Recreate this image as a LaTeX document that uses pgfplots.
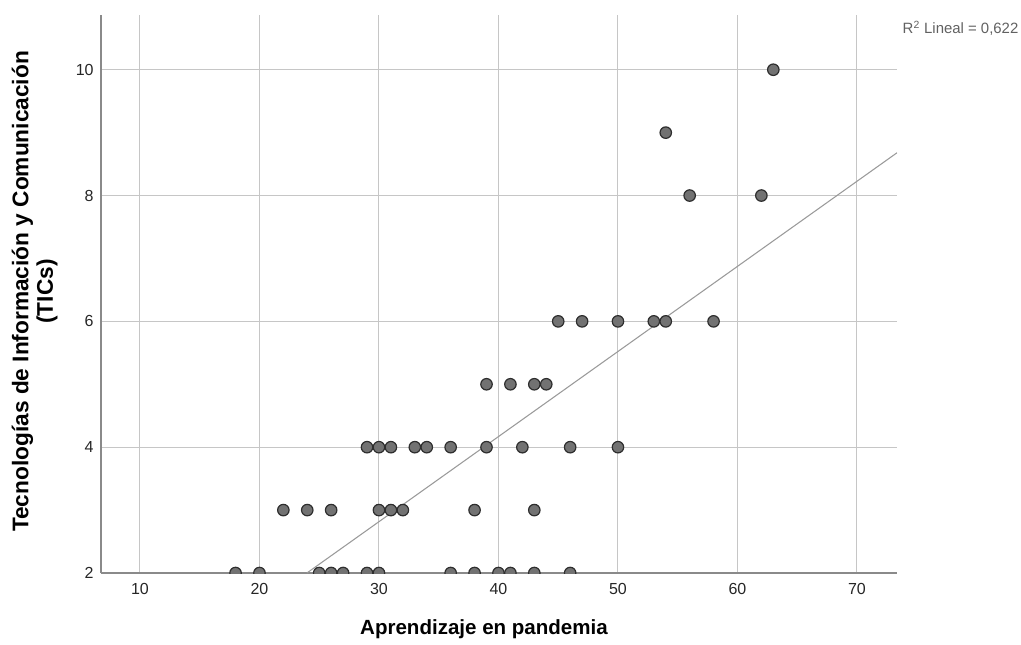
\documentclass[border=0pt]{standalone}
\usepackage{fontspec}
\setmainfont{Liberation Sans}
\usepackage{pgfplots}
\pgfplotsset{compat=1.18}
\definecolor{gridc}{HTML}{C6C6C6}
\definecolor{axc}{HTML}{8A8A8A}
\definecolor{markfill}{HTML}{727272}
\definecolor{markdraw}{HTML}{2E2E2E}
\definecolor{fitc}{HTML}{9A9A9A}
\begin{document}
\begin{tikzpicture}[x=1pt,y=1pt]
\useasboundingbox (0,0) rectangle (765.75,483);
\begin{axis}[
  at={(75.75pt,53.25pt)}, anchor=south west,
  scale only axis, width=597pt, height=418.5pt,
  xmin=6.74, xmax=73.35, ymin=2, ymax=10.87,
  axis x line*=bottom, axis y line*=left,
  axis line style={-, draw=axc, line width=0.8pt},
  xtick={10,20,30,40,50,60,70},
  ytick={2,4,6,8,10},
  major tick length=0pt,
  grid=major,
  major grid style={draw=gridc, line width=0.75pt},
  /pgf/number format/assume math mode=true,
  tick label style={font=\fontsize{12}{14}\selectfont, text=black!85},
  xticklabel style={yshift=-4pt},
  yticklabel style={xshift=-2pt},
  clip marker paths=true,
]
\addplot[draw=fitc, line width=0.8pt] coordinates {(23.97,2) (73.35,8.68)};
\addplot[only marks, mark=*, mark size=4.3pt,
  mark options={fill=markfill, draw=markdraw, line width=0.9pt}] table {
x y
18 2
20 2
25 2
26 2
27 2
29 2
30 2
36 2
38 2
40 2
41 2
43 2
46 2
22 3
24 3
26 3
30 3
31 3
32 3
38 3
43 3
29 4
30 4
31 4
33 4
34 4
36 4
39 4
42 4
46 4
50 4
39 5
41 5
43 5
44 5
45 6
47 6
50 6
53 6
54 6
58 6
56 8
62 8
54 9
63 10
};
\end{axis}
\node[anchor=base, font=\fontsize{15.4}{18}\selectfont\bfseries] at (363,7.5) {Aprendizaje en pandemia};
\node[rotate=90, align=center, font=\fontsize{17}{18.4}\selectfont\bfseries] at (26,264.4) {Tecnologías de Información y Comunicación\\(TICs)};
\node[anchor=west, font=\fontsize{11.2}{13}\selectfont, text=black!62] at (673.5,462) {R\textsuperscript{2} Lineal = 0,622};
\end{tikzpicture}
\end{document}
